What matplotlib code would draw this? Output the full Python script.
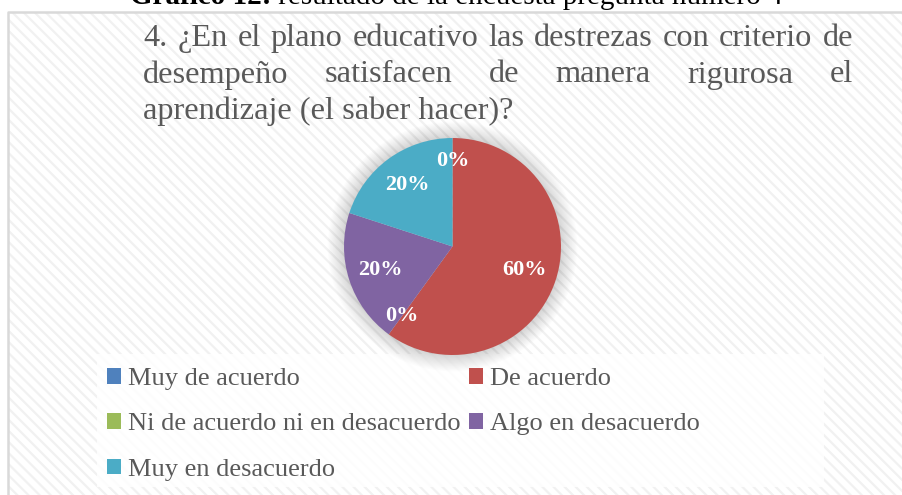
import matplotlib.pyplot as plt
from matplotlib.patches import Rectangle, Circle

labels = ["Muy de acuerdo", "De acuerdo", "Ni de acuerdo ni en desacuerdo",
          "Algo en desacuerdo", "Muy en desacuerdo"]
values = [0, 60, 0, 20, 20]
colors = ["#4F81BD", "#C0504D", "#9BBB59", "#8064A2", "#4BACC6"]

title_lines = ["4. ¿En el plano educativo las destrezas con criterio de",
               "desempeño satisfacen de manera rigurosa el",
               "aprendizaje (el saber hacer)?"]
caption_bold = "Gráfico 12:"
caption_rest = " resultado de la encuesta pregunta número 4"

W, H = 903, 495
plt.rcParams['font.family'] = ['Liberation Serif', 'DejaVu Serif']
plt.rcParams['hatch.linewidth'] = 1.6

fig = plt.figure(figsize=(W / 100, H / 100), dpi=100)
fig.patch.set_facecolor('white')

# chart area with diagonal stripes
bg = fig.add_axes([0, 0, 1, 1])
bg.set_xlim(0, W)
bg.set_ylim(H, 0)
bg.axis('off')
bg.add_patch(Rectangle((8, 12), W, H, facecolor='white', edgecolor='#F1F1F1',
                       lw=0, hatch='\\\\\\'))
bg.plot([8, 8, W], [H, 12, 12], color='#D9D9D9', lw=1.8)
bg.add_patch(Rectangle((97, 354), 727, 133, facecolor='white', alpha=0.85,
                       edgecolor='none'))

# caption cut at the top
r = fig.canvas.get_renderer()
t1 = bg.text(130, 3.5, caption_bold, fontsize=21, fontweight='bold',
             color='black', va='baseline')
bb = t1.get_window_extent(r)
bg.text(130 + bb.width, 3.5, caption_rest, fontsize=21, color='black',
        va='baseline')

# justified title
left, right = 143, 853
baselines = [46, 82.5, 119]
for i, line in enumerate(title_lines):
    words = line.split(" ")
    if i < len(title_lines) - 1:
        ws = []
        for w in words:
            t = bg.text(0, 0, w, fontsize=23.3)
            ws.append(t.get_window_extent(r).width)
            t.remove()
        gap = (right - left - sum(ws)) / (len(words) - 1)
        x = left
        for w, wd in zip(words, ws):
            bg.text(x, baselines[i], w, fontsize=23.3, color='#595959',
                    va='baseline')
            x += wd + gap
    else:
        bg.text(left, baselines[i], line, fontsize=23.3, color='#595959',
                va='baseline')

# pie
cx, cy, rad = 452.5, 246.5, 108.5
lim = 1.4
s = rad * lim
ax = fig.add_axes([(cx - s) / W, (H - cy - s) / H, 2 * s / W, 2 * s / H])
ax.patch.set_alpha(0)

for k in range(14):
    rr = 1.15 - k * 0.011
    ax.add_patch(Circle((0, 0), rr, color='black', alpha=0.012, lw=0))

wedges, texts, autotexts = ax.pie(values, colors=colors, startangle=90,
                                  counterclock=False, autopct='%1.0f%%',
                                  pctdistance=0.7,
                                  wedgeprops=dict(linewidth=0))
for v, at in zip(values, autotexts):
    at.set_color('white')
    at.set_fontsize(16)
    at.set_fontweight('bold')
    if v == 0:
        x, y = at.get_position()
        at.set_position((x * 0.79 / 0.7, y * 0.79 / 0.7))
ax.set_xlim(-lim, lim)
ax.set_ylim(-lim, lim)
ax.axis('off')

order = [0, 2, 4, 1, 3]
leg = fig.legend([wedges[i] for i in order], [labels[i] for i in order],
                 ncol=2, loc='upper left',
                 bbox_to_anchor=(107 / W, 1 - 368 / H),
                 frameon=False, fontsize=19, handlelength=0.53,
                 handleheight=0.53, handletextpad=0.25, columnspacing=0.35,
                 labelspacing=0.88, borderpad=0, borderaxespad=0)
for t in leg.get_texts():
    t.set_color('#595959')

fig.savefig('out.png', dpi=100)
